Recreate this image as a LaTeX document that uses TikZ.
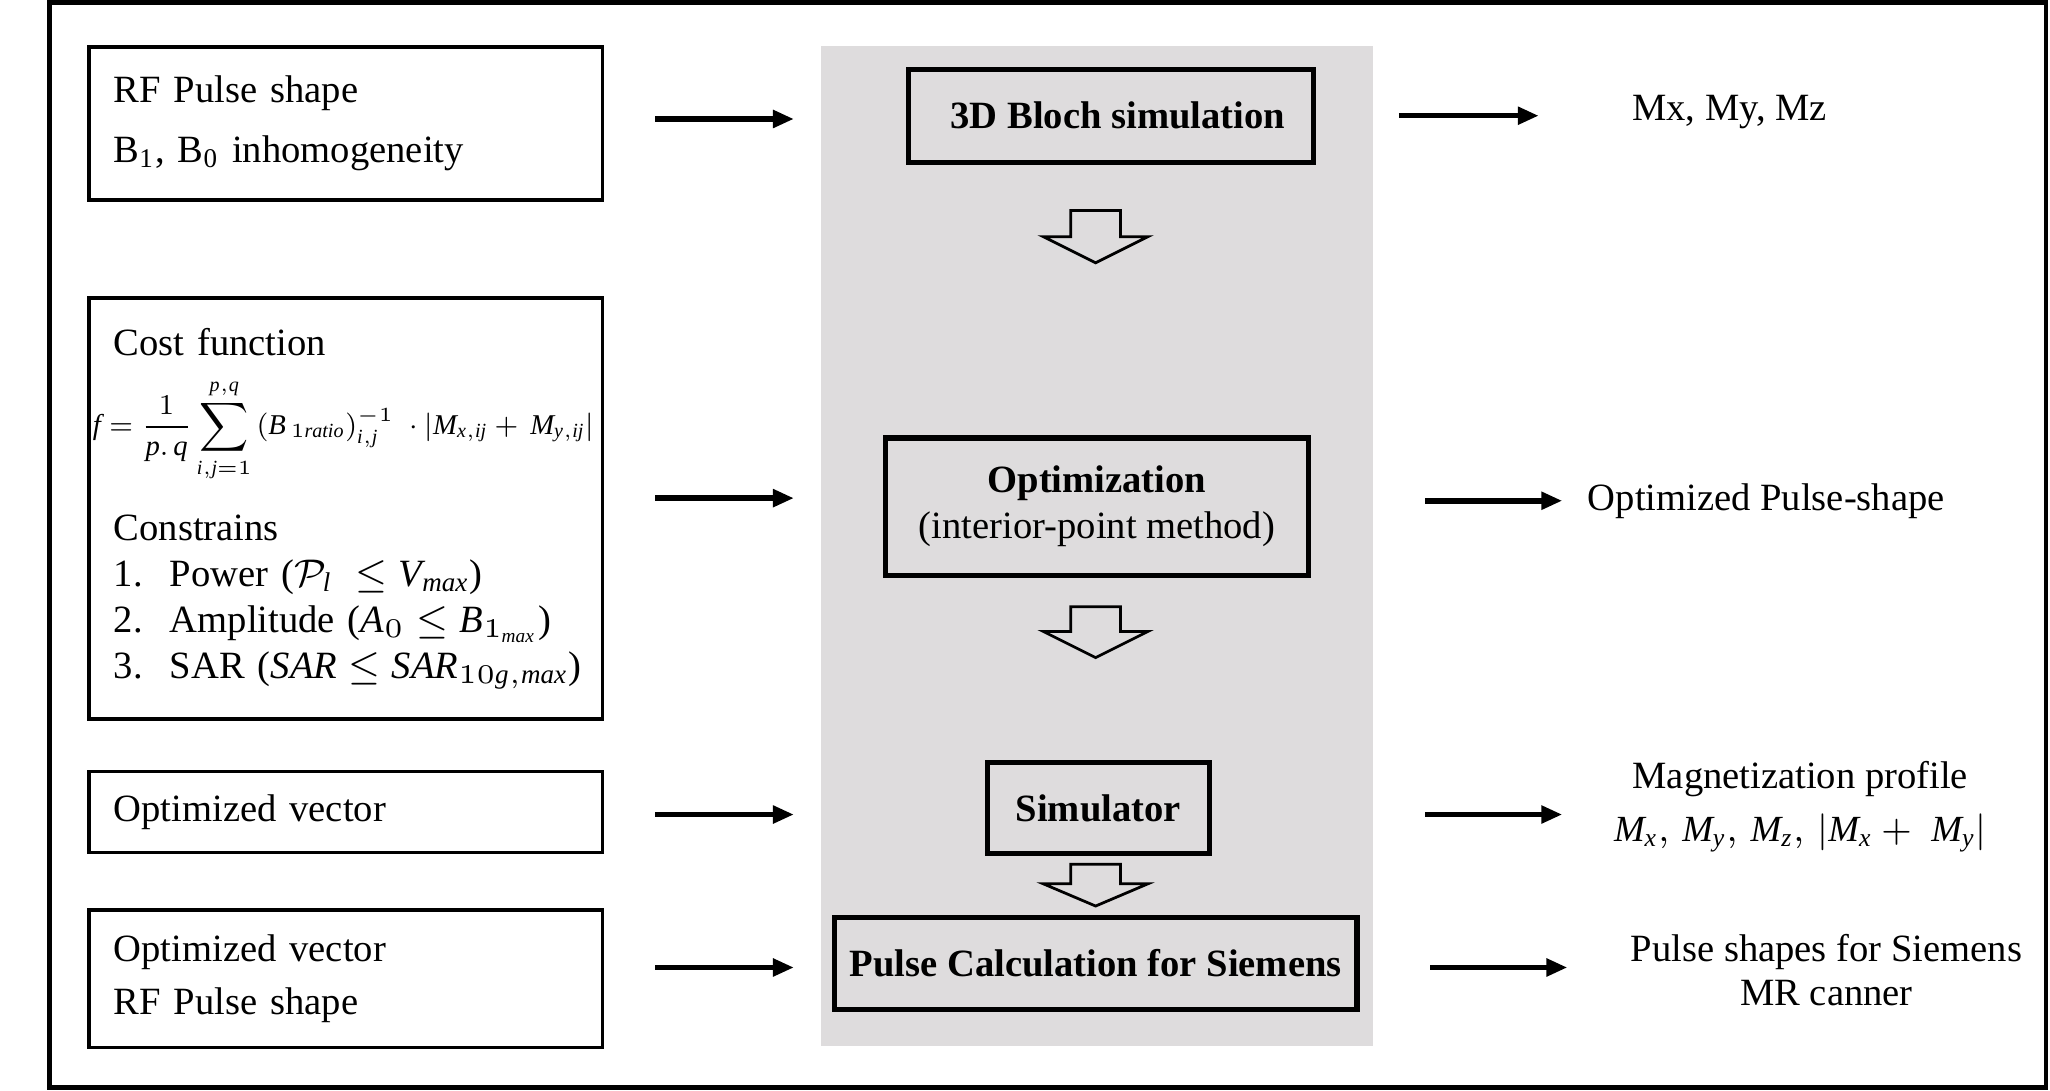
\documentclass[tikz,border=0pt]{standalone}
\usepackage{fix-cm}
\usepackage{graphicx}
\usepackage{fontspec}
\setmainfont{Liberation Serif}
\usetikzlibrary{arrows.meta,positioning,calc}
\definecolor{panelgray}{RGB}{222,220,221}
\newcommand{\mv}[1]{\mathit{#1}}
\tikzset{
  inbox/.style={draw, line width=0.7pt, text width=3.55cm, inner xsep=0.19cm, align=left, minimum height=#1},
  stepbox/.style={draw, line width=1.1pt, align=center, font=\fontsize{8.4}{10}\selectfont\bfseries},
  flow/.style={-{Triangle[length=0.16cm,width=0.13cm]}, line width=1.2pt},
  hollow/.style={draw, line width=0.6pt},
}
\begin{document}
\begin{tikzpicture}[every node/.style={font=\fontsize{8.4}{13}\selectfont}]
\useasboundingbox (0,0) rectangle (15.68,-8.34);
\draw[line width=1pt] (0.38,-0.02) rectangle (15.65,-8.32);

% grey panel behind the processing steps
\node[fill=panelgray, minimum width=4.22cm, minimum height=7.65cm, inner sep=0] (panel) at (8.39,-4.175) {};

% inputs
\node[inbox=1.17cm] (in1) at (2.645,-0.945) {RF Pulse shape\\B\textsubscript{1}, B\textsubscript{0} inhomogeneity};
\node[inbox=3.22cm, font=\fontsize{8.4}{10}\selectfont] (in2) at (2.645,-3.89) {Cost function\\[4pt]
  \hspace*{-0.16cm}\resizebox{3.83cm}{!}{$\displaystyle \mv{f}=\frac{1}{\mv{p}.\,\mv{q}}\sum_{\mv{i,j}=1}^{\mv{p,q}}\left(\mv{B}_{\,1\mv{ratio}}\right)_{\mv{i,j}}^{-1}\;\cdot\left|\mv{M}_{\mv{x,ij}}+\,\mv{M}_{\mv{y,ij}}\right|$}\\[6pt]
  Constrains\\
  \mbox{\makebox[0.43cm][l]{1.}Power ($\mathcal{P}_{\mv{l}}\;\leq \mv{V}_{\mv{max}}$)}\\
  \mbox{\makebox[0.43cm][l]{2.}Amplitude ($\mv{A}_0\leq \mv{B}_{1_{\mv{max}}}$)}\\
  \mbox{\makebox[0.43cm][l]{3.}SAR ($\mv{SAR}\leq\mv{SAR}_{10\mv{g,max}}$)}};
\node[inbox=0.62cm] (in3) at (2.645,-6.21) {Optimized vector};
\node[inbox=1.05cm, font=\fontsize{8.4}{11.6}\selectfont] (in4) at (2.645,-7.485) {Optimized vector\\RF Pulse shape};

% processing steps
\node[stepbox, minimum width=3.10cm, minimum height=0.71cm] (bloch) at (8.50,-0.885) {\hspace{0.1cm}3D Bloch simulation};
\node[stepbox, minimum width=3.24cm, minimum height=1.05cm] (optim) at (8.39,-3.875) {Optimization\\\mdseries(interior-point method)};
\node[stepbox, minimum width=1.70cm, minimum height=0.70cm] (simul) at (8.40,-6.18) {Simulator};
\node[stepbox, minimum width=3.92cm, minimum height=0.70cm] (pcalc) at (8.38,-7.37) {Pulse Calculation for Siemens};

\foreach \top/\base/\tip in {1.61/1.81/2.01, 4.64/4.83/5.03, 6.61/6.76/6.93}
  \draw[hollow] (8.19,-\top) -- (8.19,-\base) -- (7.98,-\base) -- (8.38,-\tip)
    -- (8.78,-\base) -- (8.57,-\base) -- (8.57,-\top) -- cycle;

% outputs
\node (out1) at (13.23,-0.86) {Mx, My, Mz};
\node (out2) at (13.51,-3.83) {Optimized Pulse-shape};
\node[align=center, font=\fontsize{8.4}{11.5}\selectfont] (out3) at (13.77,-6.17) {Magnetization profile\\\resizebox{2.85cm}{!}{$\mv{M}_{\mv{x}},\,\mv{M}_{\mv{y}},\,\mv{M}_{\mv{z}},\,\left|\mv{M}_{\mv{x}}+\;\mv{M}_{\mv{y}}\right|$}};
\node[align=center, font=\fontsize{8.4}{9.7}\selectfont] (out4) at (13.97,-7.42) {Pulse shapes for Siemens\\MR canner};

% arrows
\foreach \n/\dy in {in1/0.035, in2/0.08, in3/-0.02, in4/0.085}
  \draw[flow] ([xshift=0.39cm,yshift=\dy cm]\n.east) -- ++(1.06,0);
\draw[flow] ($(bloch.east)+(0.63,0)$) -- ++(1.07,0);
\draw[flow] ($(optim.east)+(0.87,0.045)$) -- ++(1.05,0);
\draw[flow] ($(simul.east)+(1.63,-0.05)$) -- ++(1.05,0);
\draw[flow] ($(pcalc.east)+(0.54,-0.03)$) -- ++(1.05,0);
\end{tikzpicture}
\end{document}
